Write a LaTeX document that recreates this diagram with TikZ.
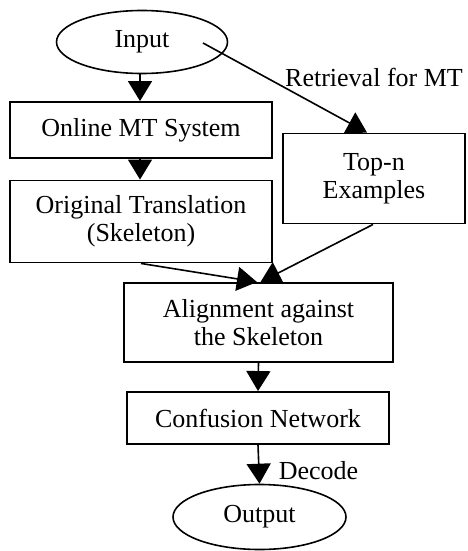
\documentclass[tikz,border=0pt]{standalone}
\usepackage{fontspec}
\setmainfont{Liberation Serif}
\usetikzlibrary{arrows.meta,shapes.geometric}
\begin{document}
\begin{tikzpicture}[x=1pt,y=-1pt,
  font=\fontsize{26}{28}\selectfont,
  box/.style={draw, line width=1.9pt, rectangle, align=center, inner sep=0pt},
  ell/.style={draw, line width=1.6pt, ellipse, inner sep=0pt},
  arr/.style={-{Triangle[width=24pt,length=20pt]}, line width=1.6pt},
  lbl/.style={inner sep=0pt}]
\useasboundingbox (0,0) rectangle (467,551);
\node[ell, minimum width=171, minimum height=63] (in) at (142,42) {Input};
\node[box, minimum width=262, minimum height=56] (onl) at (141,130) {Online MT System};
\node[box, minimum width=262, minimum height=82] (orig) at (141,221.5) {Original Translation\\(Skeleton)};
\node[box, minimum width=182, minimum height=90] (top) at (374,178.5) {Top-n\\Examples};
\node[box, minimum width=269, minimum height=79] (ali) at (258.5,322.5) {Alignment against\\the Skeleton};
\node[box, minimum width=262, minimum height=52] (con) at (258,418) {Confusion Network};
\node[ell, minimum width=173, minimum height=65] (out) at (259.5,517) {Output};
\node[lbl] (ret) at (374,77.5) {Retrieval for MT};
\coordinate (rs) at (203,43);
\draw[arr] ([xshift=-2pt]in.south) -- ([xshift=-1pt]onl.north);
\draw[arr] ([xshift=-1pt]onl.south) -- ([xshift=-1pt]orig.north);
\draw[arr] (rs) -- ([xshift=-7pt]top.north);
\draw[arr] (orig.south) -- ([xshift=-1.5pt]ali.north);
\draw[arr] ([xshift=-1pt]top.south) -- ([xshift=2pt]ali.north);
\draw[arr] (ali.south) -- (con.north);
\draw[arr] (con.south) -- (out.north) node[lbl, anchor=west, pos=0.65, xshift=19pt] (dec) {Decode};
\end{tikzpicture}
\end{document}
